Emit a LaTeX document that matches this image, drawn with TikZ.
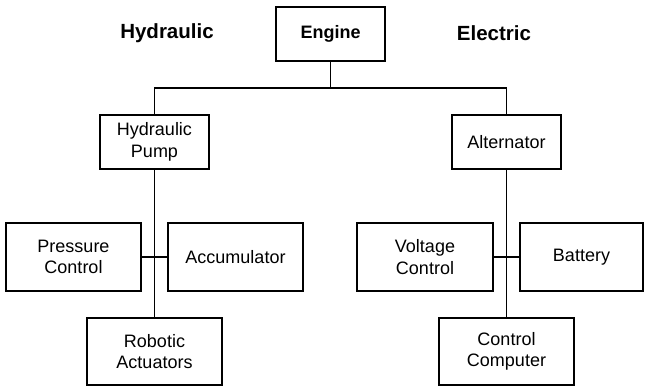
\documentclass[tikz,border=0pt]{standalone}
\usepackage{fontspec}
\setmainfont{Liberation Sans}
\begin{document}
\begin{tikzpicture}[x=1pt,y=-1pt,
  blk/.style={draw=black, line width=1.2pt, fill=white, align=center, inner sep=0pt,
    font=\fontsize{18}{21.5}\selectfont},
  lbl/.style={font=\fontsize{20.5}{24}\selectfont\bfseries},
  conn/.style={draw=black, line width=1.2pt}]
\useasboundingbox[fill=white] (0,0) rectangle (646,388);
\node[blk, minimum width=109pt, minimum height=54pt, font=\fontsize{18}{21.5}\selectfont\bfseries] (engine) at (330.5,34) {Engine};
\node[lbl] (hyd) at (167,33) {Hydraulic};
\node[lbl] (ele) at (494,33) {Electric};
\node[blk, minimum width=109pt, minimum height=54pt] (pump) at (154.5,142) {Hydraulic\\Pump};
\node[blk, minimum width=109pt, minimum height=54pt] (alt) at (506.5,142) {Alternator};
\node[blk, minimum width=135pt, minimum height=68pt] (press) at (73.5,257) {Pressure\\Control};
\node[blk, minimum width=135pt, minimum height=68pt] (acc) at (235.5,257) {Accumulator};
\node[blk, minimum width=135pt, minimum height=67pt] (robot) at (154.5,351.5) {Robotic\\Actuators};
\node[blk, minimum width=136pt, minimum height=68pt] (volt) at (425,257) {Voltage\\Control};
\node[blk, minimum width=123pt, minimum height=68pt] (batt) at (581.5,257) {Battery};
\node[blk, minimum width=135pt, minimum height=67pt] (comp) at (506.5,351.5) {Control\\Computer};
\coordinate (bus) at (330.5,88);
\draw[conn] (engine.south) -- (bus);
\draw[conn] (pump.north) |- (bus) -| (alt.north);
\draw[conn] (pump.south) -- (robot.north);
\draw[conn] (alt.south) -- (comp.north);
\draw[conn] (press.east) -- (acc.west);
\draw[conn] (volt.east) -- (batt.west);
\end{tikzpicture}
\end{document}
